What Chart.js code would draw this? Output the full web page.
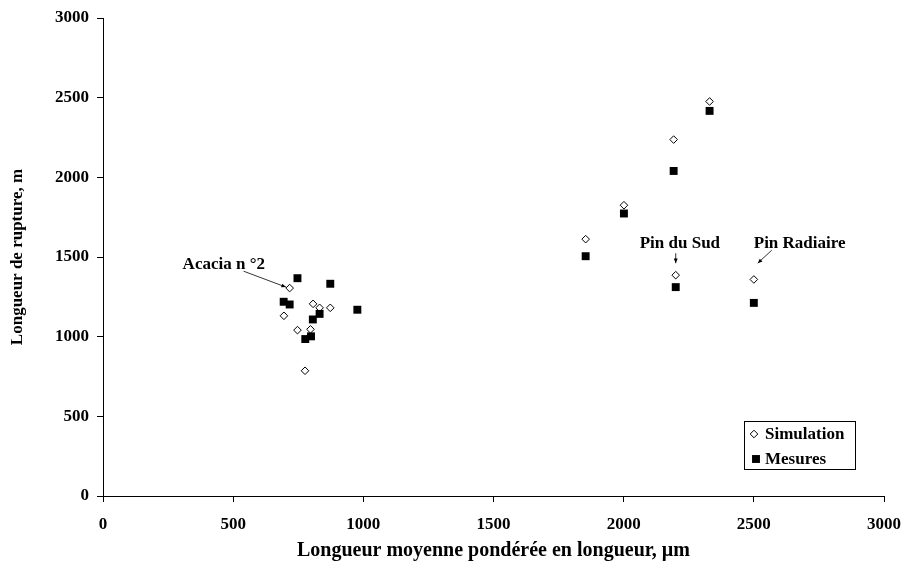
<!DOCTYPE html>
<html>
<head>
<meta charset="utf-8">
<script src="https://cdn.jsdelivr.net/npm/chart.js@4.4.0/dist/chart.umd.min.js"></script>
<style>
  html, body { margin: 0; padding: 0; background: #fff; }
  #wrap { width: 905px; height: 570px; }
</style>
</head>
<body>
<div id="wrap"><canvas id="chart"></canvas></div>
<script>
// Simulation points (open diamonds)
var simX = [717, 695, 747, 807, 832, 873, 797, 776, 1854, 2001, 2192, 2330, 2200, 2500];
var simY = [1305, 1131, 1041, 1206, 1181, 1181, 1046, 786, 1612, 1825, 2237, 2476, 1386, 1359];

// Mesures points (filled squares)
var mesX = [747, 873, 694, 717, 977, 832, 806, 799, 777, 1854, 2001, 2192, 2330, 2200, 2500];
var mesY = [1367, 1332, 1219, 1202, 1169, 1143, 1108, 1002, 985, 1505, 1773, 2040, 2417, 1311, 1212];

var xTicks = [0, 500, 1000, 1500, 2000, 2500, 3000];
var yTicks = [0, 500, 1000, 1500, 2000, 2500, 3000];

var seriesNames = ['Simulation', 'Mesures'];
var xTitle = 'Longueur moyenne pondérée en longueur, µm';
var yTitle = 'Longueur de rupture, m';

// labels with arrows, in data units
var noteText = ['Acacia n °2', 'Pin du Sud', 'Pin Radiaire'];
var noteAt = [[464, 1455], [2216, 1587], [2676, 1587]];
var arrowFrom = [[540, 1411], [2200, 1524], [2569, 1543]];
var arrowTo = [[703, 1311], [2200, 1461], [2515, 1461]];

var FONT = '"Liberation Serif", "Times New Roman", serif';

function toPoints(xs, ys) {
  return xs.map(function (x, i) { return { x: x, y: ys[i] }; });
}

function fixScale(size, horizontal) {
  return function (scale) {
    if (horizontal) scale.height = size; else scale.width = size;
    scale.paddingLeft = 0; scale.paddingRight = 0;
    scale.paddingTop = 0; scale.paddingBottom = 0;
  };
}

function plainTicks(list) {
  return function (s) { s.ticks = list.map(function (v) { return { value: v }; }); };
}

var notesPlugin = {
  id: 'notes',
  afterDatasetsDraw: function (chart) {
    var ctx = chart.ctx, xs = chart.scales.x, ys = chart.scales.y;
    ctx.save();
    ctx.font = 'bold 17px ' + FONT;
    ctx.fillStyle = '#000';
    ctx.textAlign = 'center';
    ctx.textBaseline = 'middle';
    noteText.forEach(function (t, i) {
      ctx.fillText(t, xs.getPixelForValue(noteAt[i][0]), ys.getPixelForValue(noteAt[i][1]));
      var x1 = xs.getPixelForValue(arrowFrom[i][0]), y1 = ys.getPixelForValue(arrowFrom[i][1]);
      var x2 = xs.getPixelForValue(arrowTo[i][0]), y2 = ys.getPixelForValue(arrowTo[i][1]);
      var a = Math.atan2(y2 - y1, x2 - x1);
      ctx.strokeStyle = '#000';
      ctx.lineWidth = 0.8;
      ctx.beginPath();
      ctx.moveTo(x1, y1);
      ctx.lineTo(x2, y2);
      ctx.stroke();
      ctx.beginPath();
      ctx.moveTo(x2, y2);
      ctx.lineTo(x2 - 5 * Math.cos(a - 0.4), y2 - 5 * Math.sin(a - 0.4));
      ctx.lineTo(x2 - 5 * Math.cos(a + 0.4), y2 - 5 * Math.sin(a + 0.4));
      ctx.closePath();
      ctx.fill();
    });
    ctx.restore();
  }
};

var boxLegend = {
  id: 'boxLegend',
  afterDraw: function (chart) {
    var ctx = chart.ctx, area = chart.chartArea;
    var w = 111, h = 48;
    var left = area.right - 29 - w, top = area.bottom - 27 - h;
    ctx.save();
    ctx.strokeStyle = '#000';
    ctx.lineWidth = 1;
    ctx.strokeRect(Math.round(left) + 0.5, Math.round(top) + 0.5, w, h);
    ctx.font = 'bold 17px ' + FONT;
    ctx.textBaseline = 'middle';
    ctx.textAlign = 'left';
    chart.data.datasets.forEach(function (ds, i) {
      var cy = top + 13 + i * 25;
      ctx.lineWidth = ds.borderWidth;
      ctx.strokeStyle = ds.borderColor;
      ctx.fillStyle = ds.backgroundColor;
      Chart.helpers.drawPoint(ctx, { pointStyle: ds.pointStyle, radius: ds.pointRadius, borderWidth: ds.borderWidth, rotation: 0 }, left + 10 + (i ? 2 : 0), cy);
      ctx.fillStyle = '#000';
      ctx.fillText(ds.label, left + 21, cy + 1);
    });
    ctx.restore();
  }
};

new Chart(document.getElementById('chart'), {
  type: 'scatter',
  data: {
    datasets: [{
      label: seriesNames[0],
      data: toPoints(simX, simY),
      pointStyle: 'rectRot',
      pointRadius: 3.8,
      borderWidth: 1,
      borderColor: '#000',
      backgroundColor: '#fff',
      order: 2
    }, {
      label: seriesNames[1],
      data: toPoints(mesX, mesY),
      pointStyle: 'rect',
      pointRadius: 5.6,
      borderWidth: 0,
      borderColor: '#000',
      backgroundColor: '#000',
      order: 1
    }]
  },
  options: {
    responsive: true,
    maintainAspectRatio: false,
    animation: false,
    layout: { padding: { top: 18, right: 21, left: 0, bottom: 0 } },
    plugins: {
      legend: { display: false },
      tooltip: { enabled: false }
    },
    scales: {
      x: {
        type: 'linear',
        min: 0, max: 3000,
        afterBuildTicks: plainTicks(xTicks),
        afterFit: fixScale(74, true),
        ticks: {
          color: '#000', padding: 12, maxRotation: 0,
          font: { family: FONT, size: 17, weight: 'bold' },
          callback: function (v) { return String(v); }
        },
        grid: { drawOnChartArea: false, drawTicks: true, tickLength: 6, color: '#000' },
        border: { color: '#000', width: 1 },
        title: { display: true, text: xTitle, color: '#000', padding: { top: 0, bottom: 7 }, font: { family: FONT, size: 20, weight: 'bold' } }
      },
      y: {
        type: 'linear',
        min: 0, max: 3000,
        afterBuildTicks: plainTicks(yTicks),
        afterFit: fixScale(103, false),
        ticks: {
          color: '#000', padding: 8,
          font: { family: FONT, size: 17, weight: 'bold' },
          callback: function (v) { return String(v); }
        },
        grid: { drawOnChartArea: false, drawTicks: true, tickLength: 6, color: '#000' },
        border: { color: '#000', width: 1 },
        title: { display: true, text: yTitle, color: '#000', padding: { top: 7, bottom: 0 }, font: { family: FONT, size: 17, weight: 'bold' } }
      }
    }
  },
  plugins: [notesPlugin, boxLegend]
});
</script>
</body>
</html>
